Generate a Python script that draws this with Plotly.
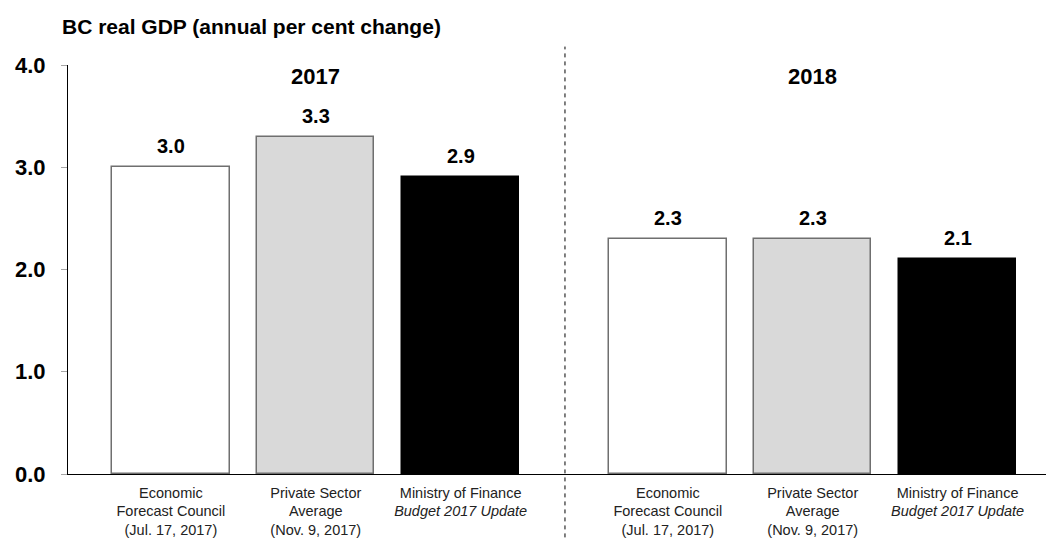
import plotly.graph_objects as go

# Forecasts of BC real GDP growth (annual per cent change)
forecasters = [
    "Economic<br>Forecast Council<br>(Jul. 17, 2017)",
    "Private Sector<br>Average<br>(Nov. 9, 2017)",
    "Ministry of Finance<br><i>Budget 2017 Update</i>",
]
years = ["2017", "2018"]
growth_2017 = [3.0, 3.3, 2.9]
growth_2018 = [2.3, 2.3, 2.1]

# Bar positions along a numeric axis: two groups of three forecasters
pos_2017 = [1, 2, 3]
pos_2018 = [4.43, 5.43, 6.43]
divider_x = 3.72

fills = ["#ffffff", "#d9d9d9", "#000000"]
outlines = ["#6f6f6f", "#6f6f6f", "#000000"]

BOLD = "Arial, Liberation Sans, sans-serif"

fig = go.Figure()

for pos, vals in [(pos_2017, growth_2017), (pos_2018, growth_2018)]:
    fig.add_trace(go.Bar(
        x=pos, y=vals, width=0.81,
        marker=dict(color=fills, line=dict(color=outlines, width=1.5)),
        showlegend=False, hoverinfo="skip",
    ))
    for xv, yv in zip(pos, vals):
        fig.add_annotation(
            x=xv, y=yv, text=f"<b>{yv:.1f}</b>", showarrow=False,
            yanchor="bottom", yshift=8,
            font=dict(family=BOLD, size=20, color="#000"),
        )

# Year headings
for label, pos in zip(years, [pos_2017, pos_2018]):
    fig.add_annotation(
        x=pos[1], y=(474 - 76) / 409 * 4, text=f"<b>{label}</b>", showarrow=False,
        font=dict(family=BOLD, size=22, color="#000"),
    )

# Dashed divider between the two years
fig.add_shape(
    type="line", xref="x", yref="paper", x0=divider_x, x1=divider_x,
    y0=-0.155, y1=1.045, line=dict(color="#000", width=1, dash="4px,4px"),
)

fig.update_layout(
    width=1046, height=544,
    margin=dict(l=68, r=0, t=65, b=70),
    plot_bgcolor="#ffffff", paper_bgcolor="#ffffff",
    bargap=0,
    title=dict(
        text="<b>BC real GDP (annual per cent change)</b>",
        x=62 / 1046, xanchor="left", y=1 - 27 / 544, yanchor="middle",
        font=dict(family=BOLD, size=21, color="#000"),
    ),
)

fig.update_xaxes(
    range=[0.29, 7.04],
    tickvals=pos_2017 + pos_2018,
    ticktext=forecasters * 2,
    tickfont=dict(family=BOLD, size=14.5, color="#222"),
    ticklabelstandoff=5,
    showline=True, linecolor="#000", linewidth=1.2,
    ticks="", showgrid=False, zeroline=False,
)

fig.update_yaxes(
    range=[0, 4],
    tickvals=[0, 1, 2, 3, 4],
    ticktext=["<b>0.0</b>", "<b>1.0</b>", "<b>2.0</b>", "<b>3.0</b>", "<b>4.0</b>"],
    tickfont=dict(family=BOLD, size=22, color="#000"),
    ticklabelstandoff=11,
    showline=True, linecolor="#000", linewidth=1.2,
    ticks="outside", ticklen=6, tickcolor="#a6a6a6",
    showgrid=False, zeroline=False,
)

fig.write_html("out.html")
